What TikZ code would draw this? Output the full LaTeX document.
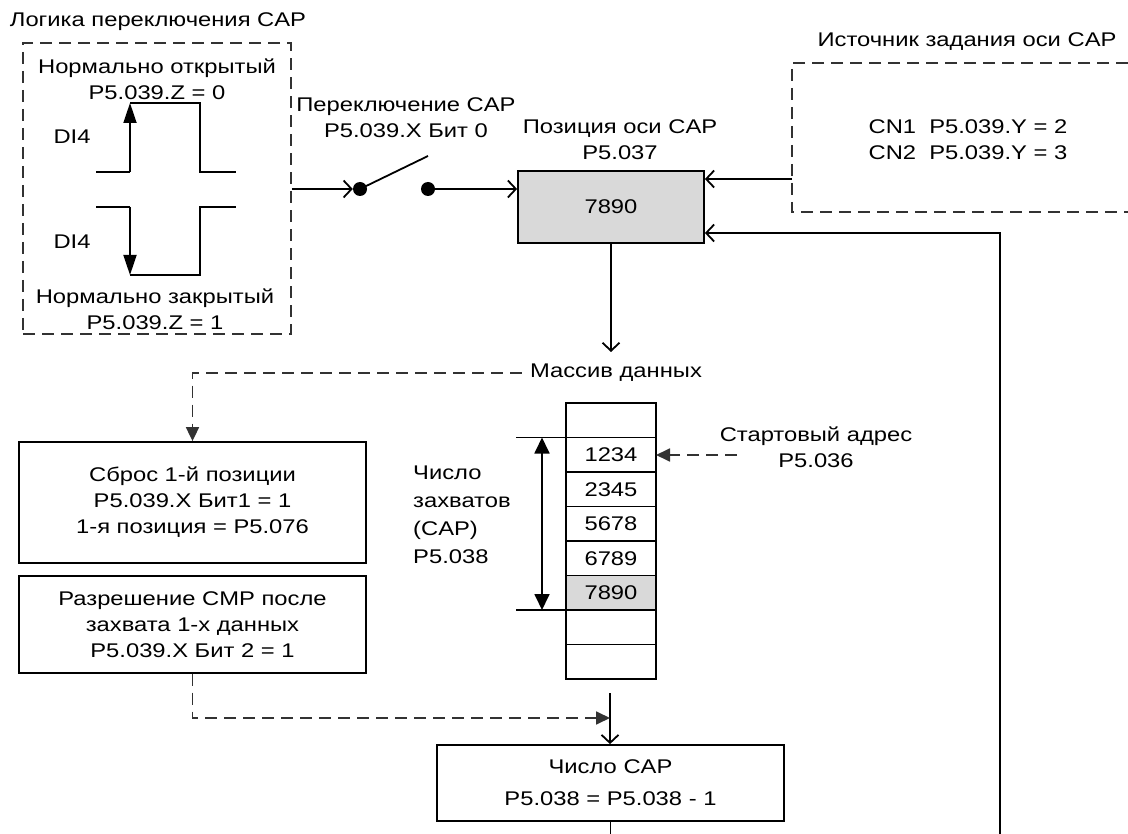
\documentclass[tikz,border=0pt]{standalone}
\usepackage{fontspec}
\setmainfont{Liberation Sans}[FakeStretch=1.2]
\usetikzlibrary{arrows.meta,positioning}
\definecolor{cellgray}{RGB}{217,217,217}
\definecolor{dashgray}{RGB}{50,50,50}

\begin{document}
\begin{tikzpicture}[x=1pt, y=-1pt,
    every node/.style={font=\fontsize{19.8}{26}\selectfont},
    box/.style={rectangle, draw, line width=1.8pt, align=center, inner sep=0pt, minimum width=347pt},
    cell/.style={rectangle, draw, line width=1.8pt, inner sep=0pt, outer sep=0pt, minimum width=90pt, minimum height=34.5pt},
    txt/.style={align=center, inner sep=0pt},
    wire/.style={line width=1.8pt},
    arrow/.style={-{Straight Barb[length=8pt,width=17pt]}, line width=1.8pt},
    tri/.style={-{Triangle[length=20pt,width=13pt]}, line width=1.8pt},
    dbl/.style={{Triangle[length=16pt,width=15pt]}-{Triangle[length=16pt,width=15pt]}, line width=1.8pt},
    darrow/.style={-{Triangle[length=14pt,width=13pt]}, line width=1.8pt, dashgray, dash pattern=on 12pt off 7pt},
    frame/.style={line width=1.8pt, dashgray, dash pattern=on 12pt off 7pt},
    dot/.style={circle, fill, inner sep=0pt, minimum size=14pt}
  ]
    \useasboundingbox (0,0) rectangle (1128,834);

    \node[txt] (logictitle) at (158,22) {Логика переключения CAP};
    \node[frame, draw, inner sep=0pt, minimum width=268pt, minimum height=291pt] (logicbox) at (157,188.5) {};
    \node[txt] (notext) at (157,79) {Нормально открытый\\P5.039.Z = 0};
    \node[txt] (nctext) at (155,309.5) {Нормально закрытый\\P5.039.Z = 1};
    \node[txt] (dia) at (72,137) {DI4};
    \node[txt] (dib) at (72,242) {DI4};
    \draw[wire] (96,172) -- (130,172) (130,103) -- (200,103) -- (200,172) -- (236,172);
    \draw[tri] (130,172) -- (130,103);
    \draw[wire] (96,207) -- (130,207) (130,275) -- (200,275) -- (200,207) -- (236,207);
    \draw[tri] (130,207) -- (130,275);

    \node[dot] (swa) at (360,189) {};
    \node[dot] (swb) at (428,189) {};
    \coordinate (blade) at (428,156);
    \node[txt] (swtext) at (406,118) {Переключение CAP\\P5.039.X Бит 0};
    \node[box, fill=cellgray, minimum width=186pt, minimum height=72pt] (capbox) at (611,207) {7890};
    \node[txt] (captext) at (620,140) {Позиция оси CAP\\P5.037};
    \draw[arrow] (logicbox.east |- swa) -- (swa.west);
    \draw[wire] (swa.center) -- (blade);
    \draw[arrow] (swb.east) -- (capbox.west |- swb);

    \node[txt] (srctitle) at (967,42) {Источник задания оси CAP};
    \draw[frame] (1128,63) -| (792,212) -- (1128,212);
    \node[txt] (cntext) at (968,140) {CN1\ \ P5.039.Y = 2\\CN2\ \ P5.039.Y = 3};
    \coordinate (srcin) at (792,179);
    \draw[arrow] (srcin) -- (srcin -| capbox.east);
    \coordinate (fbin) at (1000,834);
    \coordinate (fbturn) at (1000,233);
    \draw[arrow] (fbin) -- (fbturn) -- (fbturn -| capbox.east);

    \node[txt] (arrtext) at (616,373) {Массив данных};
    \coordinate (arrtop) at (611,352);
    \draw[arrow] (capbox.south) -- (arrtop);
    \node[cell] (c1) at (611,420.25) {};
    \node[cell, below=0pt of c1] (c2) {1234};
    \node[cell, below=0pt of c2] (c3) {2345};
    \node[cell, below=0pt of c3] (c4) {5678};
    \node[cell, below=0pt of c4] (c5) {6789};
    \node[cell, below=0pt of c5, fill=cellgray] (c6) {7890};
    \node[cell, below=0pt of c6] (c7) {};
    \node[cell, below=0pt of c7] (c8) {};
    \draw[wire] (c2.north west) -- ++(-50,0);
    \draw[wire] (c6.south west) -- ++(-50,0);
    \draw[dbl] ([xshift=-24pt]c2.north west) -- ([xshift=-24pt]c6.south west);
    \node[txt, align=left, anchor=west, font=\fontsize{19.8}{28}\selectfont] (numtext) at (413,515) {Число\\захватов\\(CAP)\\P5.038};
    \node[txt] (starttext) at (816,447) {Стартовый адрес\\P5.036};
    \coordinate (startin) at (737,455);
    \draw[darrow] (startin) -- (startin -| c2.east);

    \node[box, minimum height=121pt] (rstbox) at (192.5,502.5) {Сброс 1-й позиции\\P5.039.X Бит1 = 1\\1-я позиция = P5.076};
    \node[box, minimum height=97pt, below=11pt of rstbox] (cmpbox) {Разрешение CMP после\\захвата 1-х данных\\P5.039.X Бит 2 = 1};
    \draw[darrow] ([xshift=-8pt]arrtext.west) -| (rstbox.north);

    \node[box, minimum height=76pt, font=\fontsize{19.8}{32}\selectfont] (cntbox) at (610.5,783) {Число CAP\\P5.038 = P5.038 - 1};
    \coordinate (dectop) at (610,693);
    \coordinate (join) at (610,718);
    \draw[arrow] (dectop) -- (dectop |- cntbox.north);
    \draw[darrow] (cmpbox.south) |- (join);
    \coordinate (cntout) at (610.5,834);
    \draw[wire] (cntbox.south) -- (cntout);
  \end{tikzpicture}
\end{document}
